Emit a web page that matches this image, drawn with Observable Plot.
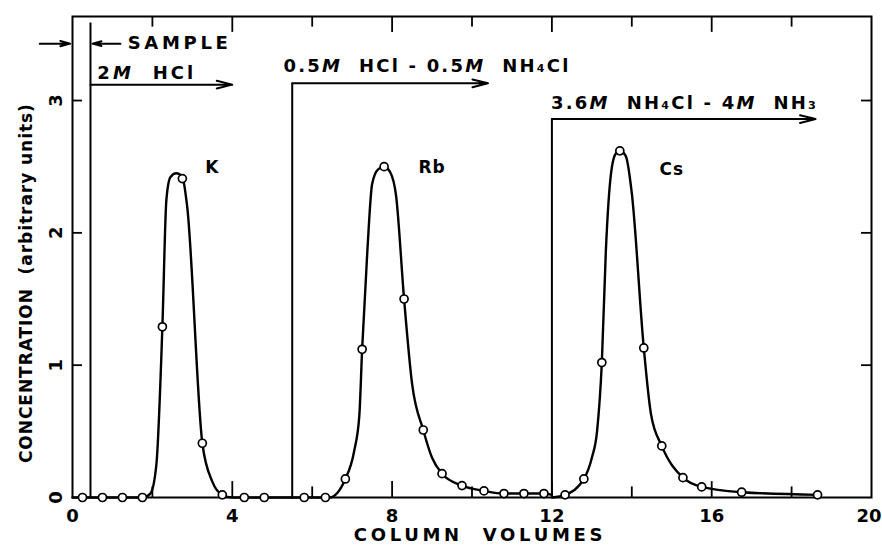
<!DOCTYPE html>
<html><head><meta charset="utf-8">
<script src="https://cdn.jsdelivr.net/npm/d3@7"></script>
<script src="https://cdn.jsdelivr.net/npm/@observablehq/plot@0.6"></script>
<style>
body{margin:0;background:#fff;}
svg text{white-space:pre;}
</style></head><body><div id="chart"></div>
<script>
// ---- data ----
const kX  = [0.25, 0.75, 1.25, 1.75, 2.25, 2.75, 3.25, 3.75, 4.3, 4.8];
const kY  = [0, 0, 0, 0, 1.29, 2.41, 0.41, 0.02, 0, 0];
const rbX = [5.8, 6.33, 6.83, 7.25, 7.8, 8.3, 8.78, 9.25, 9.75, 10.3, 10.8, 11.3, 11.8];
const rbY = [0, 0, 0.14, 1.12, 2.50, 1.50, 0.51, 0.18, 0.09, 0.05, 0.03, 0.03, 0.03];
const csX = [12.33, 12.8, 13.25, 13.7, 14.3, 14.75, 15.28, 15.75, 16.75, 18.65];
const csY = [0.02, 0.14, 1.02, 2.62, 1.13, 0.39, 0.15, 0.08, 0.04, 0.02];

// hand-drawn elution curves
const kCurveX  = [0, 1.75, 1.95, 2.1, 2.25, 2.35, 2.45, 2.6, 2.75, 2.87, 3.25, 3.5, 3.75, 4.0, 5.5];
const kCurveY  = [0, 0, 0.03, 0.25, 1.29, 2.25, 2.42, 2.45, 2.42, 2.2, 0.41, 0.12, 0.02, 0, 0];
const rbCurveX = [5.5, 6.43, 6.83, 7.05, 7.18, 7.25, 7.38, 7.5, 7.65, 7.8, 7.95, 8.1, 8.3, 8.5, 8.78, 9.0, 9.25, 9.75, 10.3, 10.8, 11.3, 11.8, 12.0];
const rbCurveY = [0, 0, 0.14, 0.35, 0.62, 1.12, 1.86, 2.37, 2.48, 2.50, 2.46, 2.28, 1.50, 0.86, 0.51, 0.3, 0.18, 0.09, 0.05, 0.03, 0.03, 0.03, 0.02];
const csCurveX = [12.0, 12.33, 12.8, 13.0, 13.13, 13.25, 13.35, 13.48, 13.6, 13.7, 13.85, 14.0, 14.3, 14.48, 14.75, 15.28, 15.75, 16.75, 18.65];
const csCurveY = [0, 0.02, 0.14, 0.3, 0.5, 1.02, 1.86, 2.45, 2.6, 2.62, 2.58, 2.3, 1.13, 0.63, 0.39, 0.15, 0.08, 0.04, 0.02];

const elements      = ["K", "Rb", "Cs"];
const elementLabelX = [3.5, 9.0, 15.0];
const elementLabelY = [2.49, 2.49, 2.48];

const eluents      = ["2M  HCl", "0.5M  HCl - 0.5M  NH₄Cl", "3.6M  NH₄Cl - 4M  NH₃"];
const eluentStart  = [0.45, 5.5, 12.0];
const eluentEnd    = [4.0, 10.4, 18.6];
const eluentLevel  = [3.12, 3.13, 2.86];
const eluentTextX  = [0.62, 5.28, 11.98];
const eluentTextY  = [3.21, 3.26, 2.98];

const sampleLabel = "SAMPLE";
const xLabel = "COLUMN  VOLUMES";
const yLabel = "CONCENTRATION  (arbitrary units)";

const xTicks      = [0, 4, 8, 12, 16, 20];
const xMajorTicks = [4, 8, 12, 16];
const xMinorTicks = [2, 6, 10, 14, 18];
const yTicks      = [0, 1, 2, 3];
const yInnerTicks = [1, 2, 3];

const yMax = 3.635;
const font = "DejaVu Sans, sans-serif";

// letter spacing per label (style, applied after rendering)
const spacing = new Map([
  [sampleLabel, 3.7], [eluents[0], 3.1], [eluents[1], 2.2], [eluents[2], 2.2],
  [xLabel, 3.7], [yLabel, 0.95], ["K", 1], ["Rb", 1], ["Cs", 1]
]);

// ---- tables ----
const pts = (xs, ys) => xs.map((x, i) => ({x, y: ys[i]}));
const points = [...pts(kX, kY), ...pts(rbX, rbY), ...pts(csX, csY)];
const curves = [pts(kCurveX, kCurveY), pts(rbCurveX, rbCurveY), pts(csCurveX, csCurveY)];
const eluentRows = eluents.map((t, i) => ({text: t, start: eluentStart[i], end: eluentEnd[i], level: eluentLevel[i], tx: eluentTextX[i], ty: eluentTextY[i], top: i === 0 ? yMax - 0.05 : eluentLevel[i]}));
const elemRows = elements.map((t, i) => ({text: t, x: elementLabelX[i], y: elementLabelY[i]}));

const chart = Plot.plot({
  width: 882, height: 546,
  marginLeft: 72, marginRight: 11, marginTop: 16, marginBottom: 49,
  x: {domain: [0, 20], axis: null},
  y: {domain: [0, yMax], axis: null},
  style: {fontFamily: font, background: "#fff", color: "#000", overflow: "visible"},
  marks: [
    Plot.frame({stroke: "#000", strokeWidth: 2}),
    // inward ticks
    Plot.ruleX(xMajorTicks, {x: d => d, y1: 0, y2: 0.12, stroke: "#000", strokeWidth: 1.8}),
    Plot.ruleX(xMinorTicks, {x: d => d, y1: 0, y2: 0.08, stroke: "#000", strokeWidth: 1.8}),
    Plot.ruleX(xMajorTicks, {x: d => d, y1: yMax, y2: yMax - 0.12, stroke: "#000", strokeWidth: 1.8}),
    Plot.ruleX(xMinorTicks, {x: d => d, y1: yMax, y2: yMax - 0.08, stroke: "#000", strokeWidth: 1.8}),
    Plot.ruleY(yInnerTicks, {y: d => d, x1: 0, x2: 0.25, stroke: "#000", strokeWidth: 1.8}),
    Plot.ruleY(yInnerTicks, {y: d => d, x1: 20, x2: 19.75, stroke: "#000", strokeWidth: 1.8}),
    // eluent change lines and arrows
    Plot.ruleX(eluentRows, {x: "start", y1: 0, y2: "top", stroke: "#000", strokeWidth: 2}),
    Plot.arrow(eluentRows, {x1: "start", x2: "end", y1: "level", y2: "level", stroke: "#000", strokeWidth: 2, headLength: 12, headAngle: 28}),
    Plot.text(eluentRows, {x: "tx", y: "ty", text: "text", textAnchor: "start", fontSize: 18, fontWeight: "bold"}),
    // sample arrows
    Plot.arrow([0], {x1: -0.82, x2: -0.06, y1: 3.43, y2: 3.43, stroke: "#000", strokeWidth: 2, headLength: 10, headAngle: 30}),
    Plot.arrow([0], {x1: 1.2, x2: 0.5, y1: 3.43, y2: 3.43, stroke: "#000", strokeWidth: 2, headLength: 10, headAngle: 30}),
    Plot.text([sampleLabel], {x: 1.38, y: 3.43, textAnchor: "start", fontSize: 18, fontWeight: "bold"}),
    // curves and measured points
    ...curves.map(c => Plot.line(c, {x: "x", y: "y", curve: "monotone-x", stroke: "#000", strokeWidth: 2.4})),
    Plot.dot(points, {x: "x", y: "y", r: 4, fill: "#fff", stroke: "#000", strokeWidth: 1.7}),
    Plot.text(elemRows, {x: "x", y: "y", text: "text", fontSize: 17, fontWeight: "bold"}),
    // axes
    Plot.text(xTicks.filter(d => d < 20), {x: d => d, y: 0, text: d => String(d), dy: 19, fontSize: 18, fontWeight: "bold"}),
    Plot.text(xTicks.filter(d => d === 20), {x: d => d, y: 0, text: d => String(d), dy: 19, dx: 10, textAnchor: "end", fontSize: 18, fontWeight: "bold"}),
    Plot.text([xLabel], {x: 10.2, y: 0, dy: 38, fontSize: 18, fontWeight: "bold"}),
    Plot.text(yTicks, {x: 0, y: d => d, text: d => String(d), dx: -16, rotate: -90, fontSize: 18, fontWeight: "bold"}),
    Plot.text([yLabel], {x: 0, y: 1.62, dx: -46, rotate: -90, fontSize: 17, fontWeight: "bold"})
  ]
});

const NS = "http://www.w3.org/2000/svg";
chart.querySelectorAll("text").forEach(t => {
  const s = t.textContent;
  if (spacing.has(s)) t.setAttribute("letter-spacing", spacing.get(s));
  // italic molarity "M"
  if (!/\dM/.test(s)) return;
  const parts = s.split(/(?<=\d)(M)/);
  t.textContent = "";
  parts.forEach(p => {
    const ts = document.createElementNS(NS, "tspan");
    ts.textContent = p;
    if (p === "M") ts.setAttribute("font-style", "italic");
    t.appendChild(ts);
  });
});

document.getElementById("chart").appendChild(chart);
</script></body></html>
